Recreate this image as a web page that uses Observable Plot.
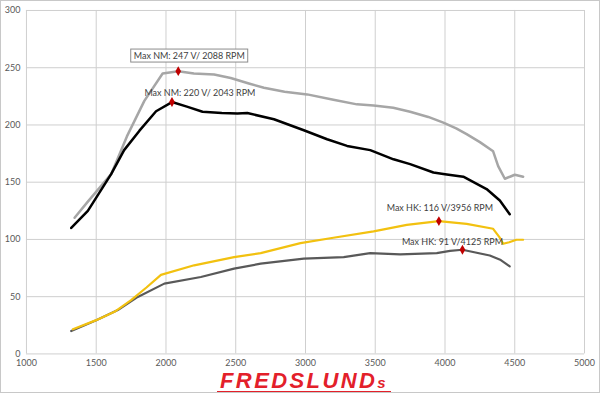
<!DOCTYPE html>
<html>
<head>
<meta charset="utf-8">
<script src="https://cdn.jsdelivr.net/npm/d3@7"></script>
<script src="https://cdn.jsdelivr.net/npm/@observablehq/plot@0.6"></script>
<style>
  html, body { margin: 0; padding: 0; background: #fff; }
  #wrap { position: relative; width: 600px; height: 393px; box-sizing: border-box; border: 1px solid #c8c8c8; overflow: hidden; background:#fff; }
  #chart { position: absolute; left: -1px; top: -1px; }
  #logo { position: absolute; left: 216px; top: 372px; font-family: "Liberation Sans", Arial, sans-serif; font-weight: bold; font-style: italic; font-size: 22px; color: #e3202a; letter-spacing: 2.4px; line-height: 15px; border-bottom: 4px solid #e3202a; padding: 0 3px 1px 3px; white-space: nowrap; }
  #logo small { font-size: 15px; }
</style>
</head>
<body>
<div id="wrap"><div id="chart"></div><div id="logo">FREDSLUND<small>s</small></div></div>
<script>
// x ticks / y ticks
const xTicks = [1000, 1500, 2000, 2500, 3000, 3500, 4000, 4500, 5000];
const yTicks = [0, 50, 100, 150, 200, 250, 300];

// Series 1: light gray torque (NM)
const grayRpm = [1345,1440,1607,1720,1845,1976,2088,2200,2345,2464,2600,2702,2850,3012,3200,3369,3488,3629,3750,3880,3988,4080,4155,4250,4345,4381,4429,4470,4500,4560];
const grayVal = [119,133,157,190,221,245,247,245,244,241,236,232.5,229,226.7,222,218,217,215,211.6,207,202,197,192,185,177,164,153,155,156.5,154.8];

// Series 2: black torque (NM)
const blackRpm = [1321,1440,1607,1700,1810,1929,2043,2150,2262,2400,2512,2583,2774,2988,3155,3298,3464,3631,3750,3917,4000,4131,4298,4393,4464];
const blackVal = [110,125,157,178,195,212,220,216,211.5,210.5,210,210.4,205,195.4,187.5,181.7,178,170,165.8,158.5,157,154.8,144,134,122];

// Series 3: yellow power (HK)
const yellowRpm = [1333,1500,1631,1750,1860,1964,2202,2488,2679,2964,3200,3488,3726,3956,4155,4345,4390,4417,4460,4512,4560];
const yellowVal = [21.5,29.5,36.8,47,58,69,77.4,84.6,88,96.8,101.5,107,112.7,116,113.6,109.3,102,96.2,97.5,99.7,99.7];

// Series 4: dark gray power (HK)
const darkRpm = [1321,1500,1655,1798,1988,2250,2488,2679,2988,3274,3464,3679,3941,4036,4125,4321,4400,4464];
const darkVal = [20,29.5,38.3,49.8,61.4,67.2,74.5,78.8,83.2,84.6,88,87,88,90,91,86,82,76.5];

// Max markers
const maxRpm = [2088, 2043, 3956, 4125];
const maxVal = [247, 220, 116, 91];
const maxLabel = ["Max NM: 247 V/ 2088 RPM", "Max NM: 220 V/ 2043 RPM", "Max HK: 116 V/3956 RPM", "Max HK: 91 V/4125 RPM"];

const toRows = (xs, ys) => xs.map((x, i) => ({x, y: ys[i]}));
const gray = toRows(grayRpm, grayVal);
const black = toRows(blackRpm, blackVal);
const yellow = toRows(yellowRpm, yellowVal);
const dark = toRows(darkRpm, darkVal);
const maxes = maxRpm.map((x, i) => ({x, y: maxVal[i], label: maxLabel[i]}));

const labelStyle = {x: "x", y: "y", text: "label", fill: "#404040", fontSize: 9, fontFamily: "Lato"};

const chart = Plot.plot({
  width: 600,
  height: 393,
  marginLeft: 26,
  marginRight: 15,
  marginTop: 10,
  marginBottom: 39,
  x: {domain: [1000, 5000], label: null},
  y: {domain: [0, 300], label: null},
  style: {fontFamily: "Lato", fontSize: "9px", color: "#595959", background: "transparent"},
  marks: [
    Plot.gridX(xTicks, {stroke: "#cfcfcf", strokeOpacity: 1, strokeWidth: 1}),
    Plot.gridY(yTicks, {stroke: "#cfcfcf", strokeOpacity: 1, strokeWidth: 1}),
    Plot.axisX(xTicks, {tickSize: 0, tickPadding: 6, tickFormat: d => String(d), fill: "#595959", label: null}),
    Plot.axisY(yTicks, {tickSize: 0, tickPadding: 6, tickFormat: d => String(d), fill: "#595959", label: null}),
    Plot.line(gray, {x: "x", y: "y", stroke: "#a6a6a6", strokeWidth: 2.5}),
    Plot.line(black, {x: "x", y: "y", stroke: "#000000", strokeWidth: 2.5}),
    Plot.line(dark, {x: "x", y: "y", stroke: "#595959", strokeWidth: 2.2}),
    Plot.line(yellow, {x: "x", y: "y", stroke: "#f2c110", strokeWidth: 2.2}),
    Plot.dot(maxes, {x: "x", y: "y", symbol: "diamond", r: 3, fill: "#c00000"}),
    Plot.text(maxes.slice(0, 1), {...labelStyle, dx: 11, dy: -15}),
    Plot.text(maxes.slice(1, 2), {...labelStyle, dx: 28, dy: -9}),
    Plot.text(maxes.slice(2, 3), {...labelStyle, dx: 1, dy: -13}),
    Plot.text(maxes.slice(3, 4), {...labelStyle, dx: -10, dy: -8})
  ]
});
document.getElementById("chart").appendChild(chart);

// Box around the first annotation label
const t = Array.from(chart.querySelectorAll("text")).find(e => e.textContent.startsWith(maxLabel[0]));
if (t) {
  const b = t.getBBox();
  const rect = document.createElementNS("http://www.w3.org/2000/svg", "rect");
  rect.setAttribute("x", b.x - 3);
  rect.setAttribute("y", b.y - 1);
  rect.setAttribute("width", b.width + 6);
  rect.setAttribute("height", b.height + 2);
  rect.setAttribute("fill", "#ffffff");
  rect.setAttribute("stroke", "#8c8c8c");
  rect.setAttribute("stroke-width", "1");
  const ctm = t.getAttribute("transform");
  if (ctm) rect.setAttribute("transform", ctm);
  t.parentNode.insertBefore(rect, t);
}
</script>
</body>
</html>
